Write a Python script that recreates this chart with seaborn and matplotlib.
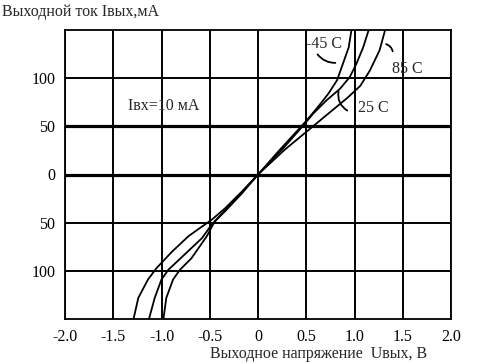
import matplotlib
matplotlib.use("Agg")
import matplotlib.pyplot as plt
import pandas as pd
import seaborn as sns

# output characteristics
v_m45 = [-0.98, -0.95, -0.88, -0.81, -0.69, -0.53, -0.45, -0.34, -0.17, 0.0,
         0.22, 0.44, 0.52, 0.62, 0.73, 0.82, 0.88, 0.94, 0.97]
i_m45 = [-150, -128, -109, -99, -87, -64, -49, -38, -20, 0,
         25, 49, 58, 70, 84, 98, 115, 132, 151]

v_25 = [-1.13, -1.07, -1.00, -0.93, -0.76, -0.58, -0.48, -0.34, -0.17, 0.0,
        0.25, 0.47, 0.57, 0.71, 0.85, 0.95, 1.02, 1.09, 1.15]
i_25 = [-150, -128, -109, -99, -83, -66, -52, -37, -19, 0,
        26, 51, 63, 77, 89, 101, 115, 132, 151]

v_85 = [-1.29, -1.24, -1.14, -1.05, -0.89, -0.72, -0.58, -0.48, -0.34, -0.17, 0.0,
        0.28, 0.57, 0.75, 0.92, 1.06, 1.16, 1.26, 1.32]
i_85 = [-150, -128, -109, -97, -80, -64, -54, -47, -35, -18, 0,
        26, 50, 65, 79, 92, 108, 129, 151]

x_ticks = [-2.0, -1.5, -1.0, -0.5, 0, 0.5, 1.0, 1.5, 2.0]
x_labels = ["-2.0", "-1.5", "-1.0", "-0.5", "0", "0.5", "1.0", "1.5", "2.0"]
y_ticks = [-100, -50, 0, 50, 100]
y_labels = ["100", "50", "0", "50", "100"]

df = pd.concat([
    pd.DataFrame({"U": v_m45, "I": i_m45, "T": "-45 C"}),
    pd.DataFrame({"U": v_25, "I": i_25, "T": "25 C"}),
    pd.DataFrame({"U": v_85, "I": i_85, "T": "85 C"}),
])

sns.set_style("white")
plt.rcParams["font.family"] = ["Liberation Serif", "DejaVu Serif"]

fig = plt.figure(figsize=(4.79, 3.63), dpi=100)
ax = fig.add_axes([65/479, 1-319/363, 386/479, 289/363])

sns.lineplot(data=df, x="U", y="I", units="T", estimator=None, sort=False,
             color="black", linewidth=1.3, legend=False, ax=ax)

ax.set_xlim(-2, 2)
ax.set_ylim(-150, 150)
ax.set_xticks(x_ticks)
ax.set_xticklabels(x_labels)
ax.set_yticks(y_ticks)
ax.set_yticklabels(y_labels)
fs = 11.5
ax.tick_params(length=0, labelsize=fs, pad=7, colors="black")
ax.set_xlabel("")
ax.set_ylabel("")
ax.grid(True, color="black", linewidth=1.4)
for line, val in zip(ax.get_ygridlines(), y_ticks):
    if val in (0, 50):
        line.set_linewidth(2.3)
for s in ax.spines.values():
    s.set_color("black")
    s.set_linewidth(1.3)

# labels of the curves
ax.text(0.50, 135, "-45 C", fontsize=fs, va="center", ha="left")
ax.annotate("", xy=(0.83, 116), xytext=(0.60, 127),
            arrowprops=dict(arrowstyle="-", color="black", lw=1.3,
                            connectionstyle="arc3,rad=0.3"))
ax.text(1.39, 109, "85 C", fontsize=fs, va="center", ha="left")
ax.annotate("", xy=(1.40, 125), xytext=(1.30, 136),
            arrowprops=dict(arrowstyle="-", color="black", lw=1.3,
                            connectionstyle="arc3,rad=-0.4"))
ax.text(1.04, 69, "25 C", fontsize=fs, va="center", ha="left")
ax.annotate("", xy=(0.95, 65), xytext=(0.84, 89),
            arrowprops=dict(arrowstyle="-", color="black", lw=1.3,
                            connectionstyle="arc3,rad=0.4"))
ax.text(-1.35, 71, "Iвх=10 мА", fontsize=fs, va="center", ha="left")

fig.text(2/479, 1-12/363, "Выходной ток Iвых,мА", fontsize=fs, va="center", ha="left")
fig.text(210/479, 1-354/363, "Выходное напряжение  Uвых, В", fontsize=fs, va="center", ha="left")

fig.savefig("out.png", dpi=100)
